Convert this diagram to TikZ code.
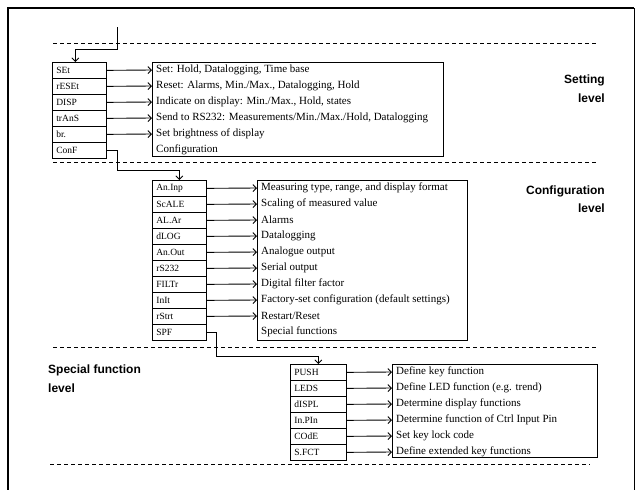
\documentclass[tikz,border=0pt]{standalone}
\usepackage{fontspec}
\setmainfont{Liberation Serif}
\newfontfamily\lblfont{Liberation Sans}
\usetikzlibrary{arrows.meta}
\begin{document}
\begin{tikzpicture}[x=1pt,y=-1pt,
  code/.style={draw, line width=0.7pt, anchor=north west, minimum height=16pt,
    inner xsep=4pt, inner ysep=0pt, text width=#1, align=left,
    font=\fontsize{9.5}{10}\selectfont},
  code/.default=46pt,
  desc/.style={anchor=west, inner xsep=4pt, inner ysep=0pt, font=\fontsize{11}{12}\selectfont},
  dbox/.style={draw, line width=0.9pt, anchor=north west, inner sep=0pt},
  arr/.style={line width=0.9pt, -{Straight Barb[length=3.5pt,width=7pt]}},
  sep/.style={dashed, dash pattern=on 4pt off 3pt, line width=0.6pt},
  lbl/.style={font=\lblfont\bfseries\fontsize{12}{14}\selectfont, inner sep=0pt}]
\useasboundingbox (0,0) rectangle (641,490);
% frame
\draw[line width=2.5pt] (8,490) -- (8,8) -- (634,8);
\draw[line width=0.8pt] (634,8) -- (634,490);
% separators
\coordinate (l1a) at (53,43);  \coordinate (l1b) at (597,43);
\coordinate (l2a) at (53,162); \coordinate (l2b) at (597,162);
\coordinate (l3a) at (53,347); \coordinate (l3b) at (597,347);
\coordinate (l4a) at (50,464); \coordinate (l4b) at (590,464);
\draw[sep] (l1a) -- (l1b);
\draw[sep] (l2a) -- (l2b);
\draw[sep] (l3a) -- (l3b);
\draw[sep] (l4a) -- (l4b);
% level labels
\node[lbl, anchor=east] (setl1) at (605,80) {Setting};
\node[lbl, anchor=east] (setl2) at (605,98) {level};
\node[lbl, anchor=east] (conl1) at (605,191) {Configuration};
\node[lbl, anchor=east] (conl2) at (605,208) {level};
\node[lbl, anchor=west] (spl1) at (48,370) {Special function};
\node[lbl, anchor=west] (spl2) at (48,388) {level};
% ---------------- Setting level
\node[dbox, minimum width=291pt, minimum height=94pt] (sbox) at (152,62) {};
\foreach \c/\d [count=\i] in {SEt/{Set: Hold, Datalogging, Time base},
  rESEt/{Reset: Alarms, Min./Max., Datalogging, Hold},
  DISP/{Indicate on display: Min./Max., Hold, states},
  trAnS/{Send to RS232: Measurements/Min./Max./Hold, Datalogging},
  br./{Set brightness of display},
  ConF/{Configuration}}{
  \node[code] (s\i) at (52,{62+16*(\i-1)}) {\c};
  \node[desc] (sd\i) at (152,{70+16*(\i-1)}) {\d};
  \ifnum\i<6 \draw[arr] (s\i.east) -- (sd\i.west); \fi
}
\coordinate (entry) at (117,27);
\draw[arr] (entry) -- ++(0,22) -| ([xshift=-4pt]s1.north);
% ---------------- Configuration level
\node[dbox, minimum width=210pt, minimum height=160pt] (cbox) at (257,180) {};
\foreach \c/\d [count=\i] in {An.Inp/{Measuring type, range, and display format},
  ScALE/{Scaling of measured value},
  AL.Ar/{Alarms},
  dLOG/{Datalogging},
  An.Out/{Analogue output},
  rS232/{Serial output},
  FILTr/{Digital filter factor},
  InIt/{Factory-set configuration (default settings)},
  rStrt/{Restart/Reset},
  SPF/{Special functions}}{
  \node[code] (c\i) at (152,{180+16*(\i-1)}) {\c};
  \node[desc] (cd\i) at (257,{188+16*(\i-1)}) {\d};
  \ifnum\i<10 \draw[arr] (c\i.east) -- (cd\i.west); \fi
}
\draw[arr] (s6.east) -- ++(11,0) -- ++(0,20) -| (c1.north);
% ---------------- Special function level
\node[dbox, minimum width=205pt, minimum height=93pt] (pbox) at (392,364) {};
\foreach \c/\d [count=\i] in {PUSH/{Define key function},
  LEDS/{Define LED function (e.g. trend)},
  dISPL/{Determine display functions},
  In.PIn/{Determine function of Ctrl Input Pin},
  COdE/{Set key lock code},
  S.FCT/{Define extended key functions}}{
  \node[code=48pt] (p\i) at (290,{364+16*(\i-1)}) {\c};
  \node[desc] (pd\i) at (392,{372+16*(\i-1)}) {\d};
  \draw[arr] (p\i.east) -- (pd\i.west);
}
\draw[arr] (c10.east) -- ++(10,0) -- ++(0,24) -| (p1.north);
\end{tikzpicture}
\end{document}
